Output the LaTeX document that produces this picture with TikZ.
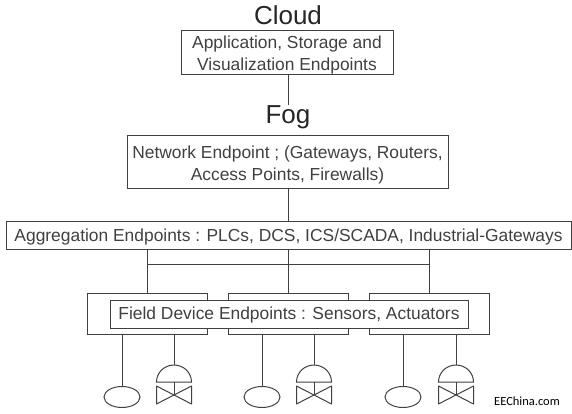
\documentclass[tikz,border=0pt]{standalone}
\usepackage{fontspec}
\setmainfont{Liberation Sans}
\newfontfamily\markfont{Carlito}
\usepackage{tikz}
\usetikzlibrary{shapes, arrows}
\definecolor{inkgray}{gray}{0.25}
\newcommand{\toppad}[1]{\rule{0pt}{#1pt}}
\tikzstyle{block} = [draw=inkgray, rectangle, line width=1pt, inner sep=0pt, align=center, text=inkgray, font=\fontsize{17.4}{22}\selectfont]
\tikzstyle{title} = [inner sep=0pt, text=black!85, font=\fontsize{26}{28}\selectfont]
\tikzstyle{device} = [draw=inkgray, rectangle, line width=1pt, minimum width=120pt, minimum height=41pt]
\tikzstyle{sensor} = [draw=inkgray, ellipse, line width=1pt, minimum width=36pt, minimum height=21pt, inner sep=0pt]
\tikzstyle{wire} = [draw=inkgray, line width=1pt]
\tikzset{valve/.pic={
    \draw [wire] (-17.5pt,-17pt) arc (180:0:17.5pt and 17pt) -- cycle;
    \draw [wire] (0,-17pt) -- (0,-30pt);
    \draw [wire, line join=round] (-17.5pt,-21pt) -- (17.5pt,-39pt) -- (17.5pt,-21pt) -- (-17.5pt,-39pt) -- cycle;
}}

\begin{document}
\begin{tikzpicture}[auto, node distance=141pt]
        \useasboundingbox (0,0) rectangle (572pt,-414pt);

        % upper part
        \node [title] (cloudlabel) at (288pt,-15pt) {Cloud};
        \node [block, minimum width=212pt, minimum height=44pt] (cloud) at (287pt,-53pt) {\toppad{16}Application, Storage and\\Visualization Endpoints};
        \node [title] (foglabel) at (288pt,-117pt) {Fog};
        \node [block, minimum width=321pt, minimum height=52pt] (fog) at (287.5pt,-162pt) {\toppad{19}Network Endpoint ; (Gateways, Routers,\\Access Points, Firewalls)};
        \node [block, minimum width=565pt, minimum height=28pt] (agg) at (288.5pt,-235pt) {\toppad{17}Aggregation Endpoints : PLCs, DCS, ICS/SCADA, Industrial-Gateways};

        % field devices
        \node [device, below of=agg, node distance=78.5pt] (devB) {};
        \node [device, left of=devB] (devA) {};
        \node [device, right of=devB] (devC) {};
        \node [block, fill=white, minimum width=358pt, minimum height=28pt] (field) at (289pt,-314pt) {\toppad{15}Field Device Endpoints : Sensors, Actuators};

        \node [sensor] (sensA) at (122pt,-397pt) {};
        \node [sensor] (sensB) at (262pt,-397pt) {};
        \node [sensor] (sensC) at (403pt,-397pt) {};
        \coordinate (valveA) at (174pt,-365pt);
        \coordinate (valveB) at (314pt,-365pt);
        \coordinate (valveC) at (456pt,-365pt);
        \pic at (valveA) {valve};
        \pic at (valveB) {valve};
        \pic at (valveC) {valve};

        \coordinate (busA) at (147pt,-264pt);
        \coordinate (busC) at (429pt,-264pt);

        \draw [wire] (cloud.south -| foglabel.north) -- (foglabel.north);
        \draw [wire] (fog.south -| devB.north) -- (agg.north -| devB.north);
        \draw [wire] (agg.south -| devA.north) -- (devA.north);
        \draw [wire] (agg.south -| devB.north) -- (devB.north);
        \draw [wire] (agg.south -| devC.north) -- (devC.north);
        \draw [wire] (busA) -- (busC);
        \draw [wire] (devA.south -| sensA.north) -- (sensA.north);
        \draw [wire] (devA.south -| valveA) -- (valveA);
        \draw [wire] (devB.south -| sensB.north) -- (sensB.north);
        \draw [wire] (devB.south -| valveB) -- (valveB);
        \draw [wire] (devC.south -| sensC.north) -- (sensC.north);
        \draw [wire] (devC.south -| valveC) -- (valveC);

        \node [inner sep=0pt, font=\markfont\fontsize{12.5}{14}\selectfont] (mark) at (527pt,-401pt) {EEChina.com};
    \end{tikzpicture}
\end{document}
